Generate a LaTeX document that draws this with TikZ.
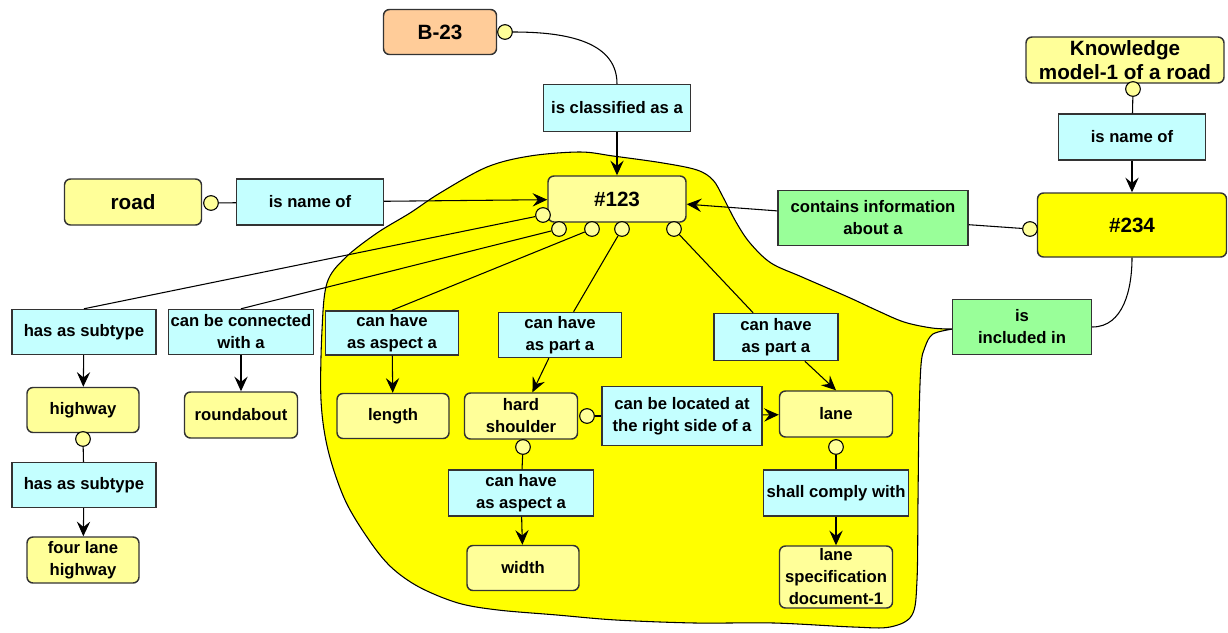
\documentclass[tikz,border=0pt]{standalone}
\usepackage{fontspec}
\setmainfont{Liberation Sans}
\usetikzlibrary{arrows.meta}
\definecolor{cpt}{HTML}{FFFF99}
\definecolor{rel}{HTML}{C4FFFF}
\definecolor{grn}{HTML}{99FF99}
\definecolor{org}{HTML}{FFCC99}
\definecolor{yel}{HTML}{FFFF00}
\definecolor{edge}{HTML}{333333}
\tikzset{
  sz/.style 2 args={minimum width=#1*0.75pt, minimum height=#2*0.75pt},
  concept/.style={draw=edge, line width=1.1pt, fill=cpt, rounded corners=4.5pt,
    inner sep=0pt, align=center, font=\fontsize{12.5}{16.5}\selectfont\bfseries},
  big/.style={font=\fontsize{15.5}{18}\selectfont\bfseries},
  relation/.style={draw=edge, line width=1.1pt, fill=rel, inner sep=0pt,
    align=center, font=\fontsize{12.5}{16.5}\selectfont\bfseries},
  dot/.style={circle, draw=black, line width=.8pt, fill=cpt, inner sep=0pt, minimum size=11pt},
  arr/.style={-{Stealth[length=11pt,width=10pt,inset=4pt]}},
}
\begin{document}
\begin{tikzpicture}[x=0.75pt, y=-0.75pt, line width=.8pt]
  \useasboundingbox (0,0) rectangle (1228,632);
  % the yellow region
  \filldraw[fill=yel, draw=black, line width=.8pt] plot[smooth, tension=.55] coordinates {
    (953,329) (933,334) (925,347) (921,365) (919,420) (918,500) (917,580) (912,615)
    (890,627) (853,627) (774,623) (695,623) (616,620) (557,615) (498,610) (458,603)
    (419,587) (391,567) (369,540) (345,500) (328,450) (321,400) (322,330) (327,283)
    (345,258) (377,233) (410,213) (440,193) (487,167) (530,156) (580,152) (613,156)
    (663,163) (697,170) (713,180) (723,197) (736,222) (750,243) (771,263) (802,277)
    (848,297) (876,310) (904,322) (932,328) (953,329)} -- cycle;

  \node[concept, big, fill=org, sz={113}{45}] (b23) at (440,32) {B-23};
  \node[concept, big, sz={198}{46}] (km) at (1125,60) {Knowledge\\model-1 of a road};
  \node[concept, big, sz={137}{46}] (road) at (133,202) {road};
  \node[concept, big, sz={138}{46}] (n123) at (617,199) {\#123};
  \node[concept, big, fill=yel, sz={189}{64}] (n234) at (1132,225) {\#234};

  \node[relation, sz={147}{47}] (cls) at (617,108) {is classified as a};
  \node[relation, sz={147}{46}] (nm1) at (310,202) {is name of};
  \node[relation, sz={147}{46}] (nm2) at (1132,137) {is name of};
  \node[relation, fill=grn, sz={190}{55}] (info) at (873,218) {contains information\\about a};
  \node[relation, fill=grn, sz={139}{55}] (incl) at (1022,327) {is\\included in};
  \node[relation, sz={144}{45}] (sub1) at (84,332) {has as subtype};
  \node[relation, sz={145}{45}] (conn) at (241,332) {can be connected\\with a};
  \node[relation, sz={133}{44}] (asp1) at (392,333) {can have\\as aspect a};
  \node[relation, sz={123}{45}] (part1) at (560,335) {can have\\as part a};
  \node[relation, sz={124}{47}] (part2) at (776,337) {can have\\as part a};
  \node[relation, sz={160}{59}] (loc) at (682,416) {can be located at\\the right side of a};
  \node[relation, sz={145}{46}] (asp2) at (521,493) {can have\\as aspect a};
  \node[relation, sz={145}{46}] (comp) at (836,493) {shall comply with};
  \node[relation, sz={144}{45}] (sub2) at (84,485) {has as subtype};

  \node[concept, sz={112}{45}] (hwy) at (83,410) {highway};
  \node[concept, sz={112}{46}] (four) at (83,560) {four lane\\highway};
  \node[concept, sz={113}{46}] (rndb) at (241,415) {roundabout};
  \node[concept, sz={112}{45}] (len) at (393,416) {length};
  \node[concept, sz={113}{46}] (hs) at (521,416) {hard\\shoulder};
  \node[concept, sz={113}{46}] (lane) at (836,414) {lane};
  \node[concept, sz={112}{45}] (wid) at (523,568) {width};
  \node[concept, sz={113}{62}] (spec) at (836,577) {lane\\specification\\document-1};

  \node[dot] (d0) at (505,32) {};
  \node[dot] (d1) at (211,203) {};
  \node[dot] (d2) at (1133,89) {};
  \node[dot] (d3) at (1030,229) {};
  \node[dot] (c1) at (543,215) {};
  \node[dot] (c2) at (559,229) {};
  \node[dot] (c3) at (592,229) {};
  \node[dot] (c4) at (622,229) {};
  \node[dot] (c5) at (674,229) {};
  \node[dot] (d4) at (83,439) {};
  \node[dot] (d5) at (587,416) {};
  \node[dot] (d6) at (523,447) {};
  \node[dot] (d7) at (836,447) {};

  \draw (d0) to[out=0,in=90] (cls.north);
  \draw[arr] (cls) -- (n123);
  \draw (d1) -- (nm1);
  \draw[arr] (nm1) -- (n123);
  \draw (d2) -- (nm2);
  \draw[arr] (nm2) -- (n234);
  \draw (d3) -- (info);
  \draw[arr] (info) -- (n123);
  \draw (n234.south) to[out=-90,in=0] (incl.east);
  \draw (c1) -- (sub1.north);
  \draw (c2) -- (conn.north);
  \draw (c3) -- (asp1.north);
  \draw (c4) -- (part1);
  \draw (c5) -- (part2);
  \draw[arr] (sub1) -- (hwy);
  \draw (d4) -- (sub2);
  \draw[arr] (sub2) -- (four);
  \draw[arr] (conn) -- (rndb);
  \draw[arr] (asp1) -- (len);
  \draw[arr] (part1) -- (hs);
  \draw[arr] (part2.-40) -- (lane.north);
  \draw (d5) -- (loc);
  \draw[arr] (loc) -- (lane);
  \draw (d6) -- (asp2);
  \draw[arr] (asp2) -- (wid);
  \draw (d7) -- (comp);
  \draw[arr] (comp) -- (spec);
\end{tikzpicture}
\end{document}
